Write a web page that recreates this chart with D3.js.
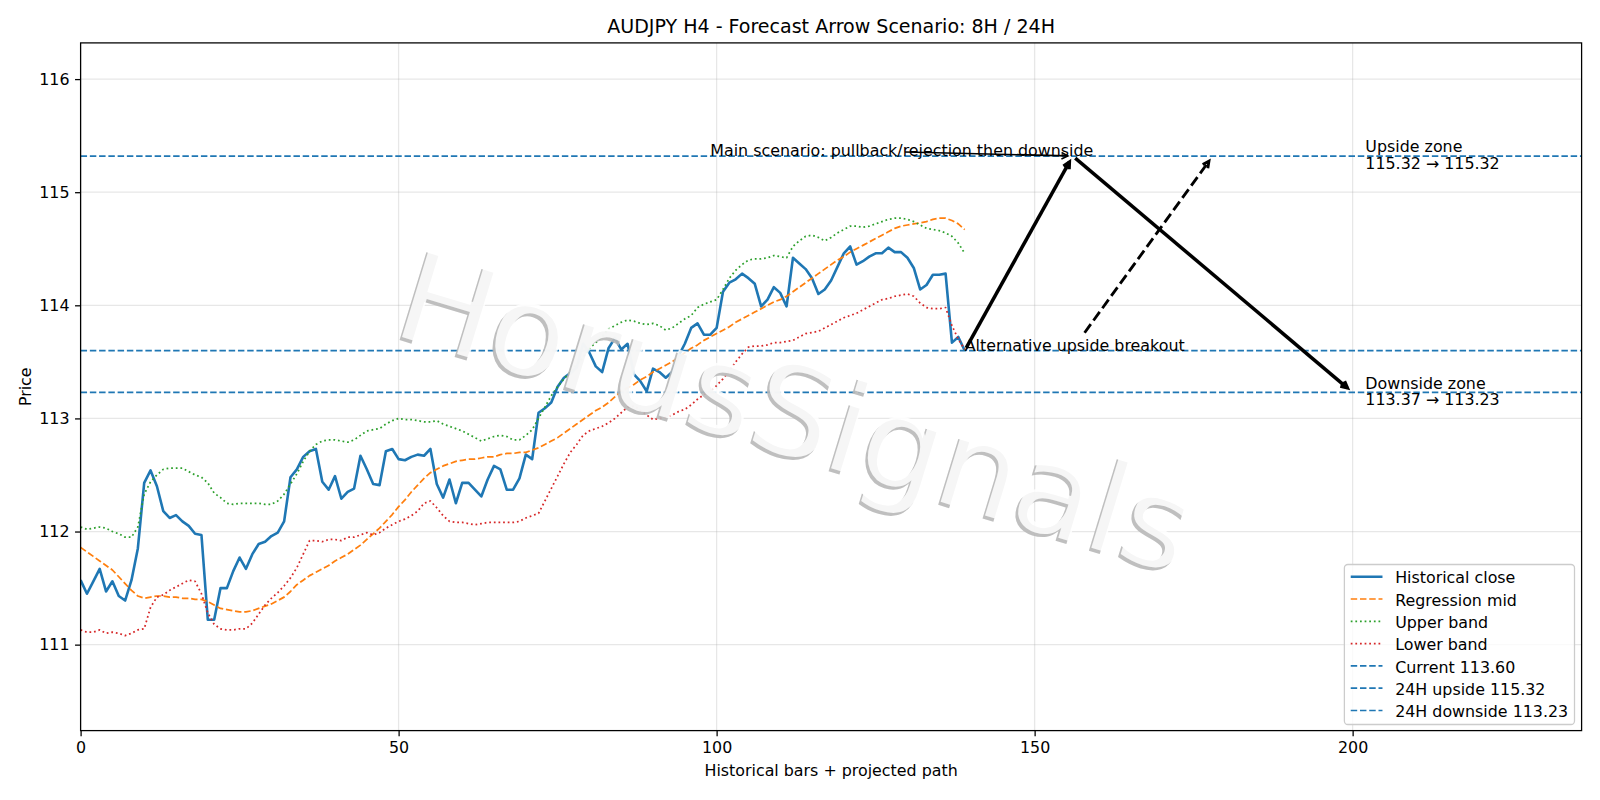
<!DOCTYPE html>
<html><head><meta charset="utf-8">
<script src="https://cdn.jsdelivr.net/npm/d3@7"></script>
<style>
html,body{margin:0;padding:0;background:#fff;}
svg{display:block;font-family:"DejaVu Sans",sans-serif;}
</style></head><body>
<svg id="chart" width="1600" height="800"></svg>
<script>
// ---------------- data ----------------
const closeValues = [
111.57,111.45,111.56,111.67,111.47,111.56,111.43,111.39,111.57,111.85,
112.43,112.54,112.40,112.18,112.12,112.145,112.09,112.05,111.98,111.97,
111.22,111.22,111.50,111.50,111.65,111.77,111.67,111.80,111.89,111.91,
111.96,111.99,112.09,112.48,112.55,112.66,112.71,112.73,112.44,112.37,
112.49,112.29,112.35,112.38,112.67,112.55,112.42,112.41,112.71,112.73,
112.64,112.63,112.66,112.68,112.67,112.73,112.42,112.30,112.46,112.25,
112.43,112.43,112.37,112.31,112.46,112.58,112.55,112.37,112.37,112.47,
112.68,112.64,113.05,113.09,113.14,113.28,113.36,113.40,113.45,113.66,
113.58,113.46,113.41,113.62,113.71,113.61,113.66,113.39,113.33,113.24,
113.44,113.41,113.36,113.41,113.55,113.66,113.80,113.84,113.74,113.74,
113.80,114.12,114.20,114.23,114.28,114.24,114.19,113.99,114.05,114.16,
114.11,113.99,114.42,114.37,114.32,114.24,114.10,114.14,114.22,114.34,
114.46,114.52,114.36,114.39,114.43,114.46,114.46,114.51,114.47,114.47,
114.42,114.33,114.14,114.18,114.27,114.27,114.28,113.67,113.72,113.60];
const midValues = [
111.86,111.82,111.78,111.74,111.70,111.66,111.60,111.54,111.48,111.43,
111.41,111.42,111.43,111.43,111.42,111.42,111.41,111.41,111.40,111.40,
111.38,111.35,111.32,111.31,111.30,111.29,111.29,111.30,111.32,111.34,
111.36,111.39,111.42,111.47,111.53,111.57,111.61,111.64,111.67,111.70,
111.74,111.77,111.80,111.84,111.88,111.93,111.98,112.03,112.09,112.15,
112.22,112.28,112.35,112.41,112.47,112.52,112.55,112.58,112.60,112.62,
112.63,112.64,112.64,112.65,112.66,112.66,112.68,112.69,112.69,112.70,
112.70,112.72,112.74,112.77,112.80,112.83,112.87,112.91,112.95,112.99,
113.03,113.07,113.10,113.14,113.19,113.24,113.27,113.30,113.34,113.37,
113.41,113.44,113.47,113.50,113.54,113.58,113.62,113.65,113.69,113.72,
113.75,113.78,113.81,113.85,113.88,113.91,113.94,113.97,114.00,114.03,
114.05,114.08,114.12,114.16,114.20,114.24,114.28,114.32,114.36,114.40,
114.43,114.47,114.50,114.53,114.56,114.59,114.62,114.65,114.68,114.70,
114.71,114.72,114.73,114.74,114.76,114.77,114.77,114.75,114.72,114.67];
const upperValues = [
112.04,112.02,112.03,112.04,112.03,112.00,111.98,111.95,111.95,112.04,
112.33,112.44,112.50,112.55,112.56,112.56,112.56,112.53,112.50,112.48,
112.43,112.34,112.30,112.25,112.24,112.25,112.25,112.25,112.25,112.24,
112.24,112.27,112.33,112.42,112.51,112.62,112.71,112.77,112.80,112.81,
112.81,112.80,112.79,112.81,112.85,112.89,112.90,112.91,112.95,112.98,
113.00,112.99,112.99,112.98,112.97,112.97,112.98,112.95,112.93,112.91,
112.89,112.86,112.83,112.80,112.82,112.84,112.85,112.84,112.81,112.81,
112.85,112.90,113.00,113.10,113.20,113.28,113.35,113.41,113.48,113.54,
113.62,113.67,113.72,113.79,113.82,113.85,113.87,113.86,113.84,113.83,
113.84,113.82,113.78,113.80,113.84,113.88,113.91,113.98,114.01,114.03,
114.05,114.14,114.24,114.31,114.36,114.40,114.41,114.41,114.42,114.44,
114.43,114.42,114.52,114.57,114.61,114.62,114.60,114.57,114.60,114.64,
114.67,114.70,114.70,114.69,114.70,114.72,114.74,114.76,114.77,114.77,
114.76,114.74,114.71,114.68,114.67,114.66,114.64,114.61,114.55,114.46];
const lowerValues = [
111.13,111.11,111.11,111.13,111.10,111.11,111.10,111.08,111.10,111.13,
111.14,111.33,111.42,111.44,111.48,111.51,111.54,111.57,111.56,111.45,
111.28,111.18,111.14,111.13,111.13,111.14,111.14,111.19,111.27,111.35,
111.41,111.46,111.52,111.59,111.68,111.80,111.92,111.92,111.91,111.93,
111.93,111.92,111.95,111.95,111.97,111.99,111.97,111.99,112.03,112.06,
112.09,112.11,112.14,112.18,112.25,112.27,112.21,112.14,112.09,112.08,
112.08,112.07,112.06,112.07,112.08,112.08,112.08,112.08,112.08,112.09,
112.12,112.14,112.16,112.27,112.38,112.49,112.60,112.70,112.77,112.85,
112.89,112.91,112.93,112.96,113.00,113.05,113.10,113.11,113.07,113.03,
112.99,113.00,113.01,113.03,113.06,113.08,113.12,113.17,113.21,113.24,
113.29,113.35,113.42,113.50,113.57,113.63,113.64,113.64,113.65,113.67,
113.67,113.68,113.69,113.72,113.75,113.76,113.77,113.80,113.83,113.86,
113.89,113.91,113.93,113.96,113.99,114.02,114.05,114.06,114.08,114.09,
114.10,114.08,114.02,113.98,113.97,113.97,113.98,113.82,113.70,113.61];

const levelValues = [113.60, 115.32, 113.23];          // current, 24H upside, 24H downside
const levelLabels = ["Current 113.60", "24H upside 115.32", "24H downside 113.23"];
const downsideFrom = 113.37;
const scenarioX = [139, 156, 200];                     // main path: now -> pullback high -> downside
const scenarioY = [113.60, 115.32, 113.23];
const altTarget = [178, 115.32];                        // alternative breakout arrow target
const mainTextPos = [99, 115.32];
const zoneTextX = 202;
const xTicks = [0, 50, 100, 150, 200];
const yTicks = [111, 112, 113, 114, 115, 116];
const xDomain = [0, 236];
const yDomain = [110.24, 116.32];
const titleText = "AUDJPY H4 - Forecast Arrow Scenario: 8H / 24H";
const xLabelText = "Historical bars + projected path";
const yLabelText = "Price";
const watermarkText = "HorusSignals";

// ---------------- layout ----------------
const PT = 1.5875;             // px per point
const FS = 10 * PT;            // 10pt text
const plot = {l: 80.6, r: 1581.6, t: 42.9, b: 730.6};
const C = {blue: "#1f77b4", orange: "#ff7f0e", green: "#2ca02c", red: "#d62728"};

const svg = d3.select("#chart");
const x = d3.scaleLinear().domain(xDomain).range([plot.l, plot.r]);
const y = d3.scaleLinear().domain(yDomain).range([plot.b, plot.t]);

svg.append("rect").attr("width", 1600).attr("height", 800).attr("fill", "#fff");

svg.append("defs").append("clipPath").attr("id", "clip")
  .append("rect").attr("x", plot.l).attr("y", plot.t)
  .attr("width", plot.r - plot.l).attr("height", plot.b - plot.t);

// grid
const grid = svg.append("g").attr("stroke", "#b0b0b0").attr("stroke-opacity", 0.3).attr("stroke-width", 0.8 * PT);
grid.selectAll(".gx").data(xTicks).enter().append("line")
  .attr("x1", d => x(d)).attr("x2", d => x(d)).attr("y1", plot.t).attr("y2", plot.b);
grid.selectAll(".gy").data(yTicks).enter().append("line")
  .attr("y1", d => y(d)).attr("y2", d => y(d)).attr("x1", plot.l).attr("x2", plot.r);

const plotG = svg.append("g").attr("clip-path", "url(#clip)");
const line = d3.line().x((d, i) => x(i)).y(d => y(d));

const series = [
  {vals: closeValues, color: C.blue, lw: 2.6, dash: null, label: "Historical close"},
  {vals: midValues, color: C.orange, lw: 1.1 * PT, dash: [3.7 * 1.1 * PT, 1.6 * 1.1 * PT], label: "Regression mid"},
  {vals: upperValues, color: C.green, lw: 1.1 * PT, dash: [1 * 1.1 * PT, 1.65 * 1.1 * PT], label: "Upper band"},
  {vals: lowerValues, color: C.red, lw: 1.1 * PT, dash: [1 * 1.1 * PT, 1.65 * 1.1 * PT], label: "Lower band"}
];
series.forEach(s => {
  plotG.append("path").datum(s.vals).attr("d", line)
    .attr("fill", "none").attr("stroke", s.color).attr("stroke-width", s.lw)
    .attr("stroke-linejoin", "round")
    .attr("stroke-dasharray", s.dash ? s.dash.join(",") : null);
});

// horizontal levels
const levelDash = [3.7 * 1.1 * PT, 1.6 * 1.1 * PT];
levelValues.forEach(v => {
  plotG.append("line").attr("x1", plot.l).attr("x2", plot.r)
    .attr("y1", y(v)).attr("y2", y(v))
    .attr("stroke", C.blue).attr("stroke-width", 1.1 * PT)
    .attr("stroke-dasharray", levelDash.join(","));
});

// ---------------- annotations ----------------
const annG = svg.append("g");
function drawArrow(p0, p1, lw, dash, shrinkA) {
  const ms = FS, hl = 0.4 * ms, hw = 0.2 * ms;
  const [x0, y0] = p0, [x1, y1] = p1;
  const dx = x1 - x0, dy = y1 - y0, L = Math.hypot(dx, dy);
  const ux = dx / L, uy = dy / L;
  const shrinkB = 2 * PT;
  const sx = x0 + ux * shrinkA, sy = y0 + uy * shrinkA;
  const ex = x1 - ux * shrinkB, ey = y1 - uy * shrinkB;
  const sinT = hw / Math.hypot(hl, hw);
  const pad = 0.5 * lw / sinT;
  const ax = ex - ux * pad, ay = ey - uy * pad;
  const px = -uy, py = ux;
  const b1x = ax - ux * hl + px * hw, b1y = ay - uy * hl + py * hw;
  const b2x = ax - ux * hl - px * hw, b2y = ay - uy * hl - py * hw;
  annG.append("path").attr("d", `M${sx},${sy}L${ax},${ay}`)
    .attr("fill", "none").attr("stroke", "#000").attr("stroke-width", lw)
    .attr("stroke-dasharray", dash ? dash.join(",") : null);
  annG.append("path").attr("d", `M${b1x},${b1y}L${ax},${ay}L${b2x},${b2y}`)
    .attr("fill", "none").attr("stroke", "#000").attr("stroke-width", lw)
    .attr("stroke-linejoin", "miter").attr("stroke-miterlimit", 10);
}
// text annotation with arrow from the text bbox centre (matplotlib style)
function annotateText(txt, tpos, target, lw, dash) {
  const tx = x(tpos[0]), ty = y(tpos[1]);
  const t = annG.append("text").attr("x", tx).attr("y", ty)
    .attr("font-size", FS).attr("fill", "#000").text(txt);
  const w = t.node().getComputedTextLength();
  const top = ty - 0.76 * FS, bot = ty + 0.24 * FS;
  const cx = tx + w / 2, cy = (top + bot) / 2;
  const pad = 2 * PT;
  const rx0 = tx - pad, rx1 = tx + w + pad, ry0 = top - pad, ry1 = bot + pad;
  const X1 = x(target[0]), Y1 = y(target[1]);
  let sx = cx, sy = cy;
  const inside = (px, py) => px >= rx0 && px <= rx1 && py >= ry0 && py <= ry1;
  if (!inside(X1, Y1)) {
    let lo = 0, hi = 1;
    for (let k = 0; k < 40; k++) {
      const m = (lo + hi) / 2;
      if (inside(cx + (X1 - cx) * m, cy + (Y1 - cy) * m)) lo = m; else hi = m;
    }
    sx = cx + (X1 - cx) * hi; sy = cy + (Y1 - cy) * hi;
  }
  drawArrow([sx, sy], [X1, Y1], lw, dash, 2 * PT);
}

// main scenario path
drawArrow([x(scenarioX[0]), y(scenarioY[0])], [x(scenarioX[1]), y(scenarioY[1])], 2.2 * PT, null, 2 * PT);
drawArrow([x(scenarioX[1]), y(scenarioY[1])], [x(scenarioX[2]), y(scenarioY[2])], 2.2 * PT, null, 2 * PT);
annotateText("Main scenario: pullback/rejection then downside", mainTextPos,
  [scenarioX[1], scenarioY[1]], 1 * PT, null);
annotateText("Alternative upside breakout", [scenarioX[0], scenarioY[0]], altTarget,
  1.8 * PT, [3.7 * 1.8 * PT, 1.6 * 1.8 * PT]);

// zone labels
function zoneText(lines, yv) {
  const pitch = 16.5;
  const b1 = y(yv) - pitch / 2 + 0.276 * FS;
  const t = annG.append("text").attr("font-size", FS).attr("fill", "#000");
  lines.forEach((s, i) => t.append("tspan").attr("x", x(zoneTextX)).attr("y", b1 + i * pitch).text(s));
}
zoneText(["Upside zone", `${levelValues[1].toFixed(2)} \u2192 ${levelValues[1].toFixed(2)}`], levelValues[1]);
zoneText(["Downside zone", `${downsideFrom.toFixed(2)} \u2192 ${levelValues[2].toFixed(2)}`], levelValues[2]);

// ---------------- axes ----------------
const tickLen = 3.5 * PT;
const xAxis = svg.append("g").attr("transform", `translate(0,${plot.b})`)
  .call(d3.axisBottom(x).tickValues(xTicks).tickSize(tickLen).tickPadding(tickLen).tickFormat(d3.format("d")));
const yAxis = svg.append("g").attr("transform", `translate(${plot.l},0)`)
  .call(d3.axisLeft(y).tickValues(yTicks).tickSize(tickLen).tickPadding(tickLen).tickFormat(d3.format("d")));
[xAxis, yAxis].forEach(a => {
  a.select(".domain").remove();
  a.selectAll("line").attr("stroke", "#000").attr("stroke-width", 0.8 * PT);
  a.selectAll("text").attr("font-size", FS).attr("fill", "#000")
    .attr("font-family", '"DejaVu Sans",sans-serif');
});
svg.append("rect").attr("x", plot.l).attr("y", plot.t)
  .attr("width", plot.r - plot.l).attr("height", plot.b - plot.t)
  .attr("fill", "none").attr("stroke", "#000").attr("stroke-width", 0.8 * PT);

// titles
const midX = (plot.l + plot.r) / 2;
svg.append("text").attr("x", midX).attr("y", plot.t - 6 * PT)
  .attr("text-anchor", "middle").attr("font-size", 12 * PT).attr("fill", "#000").text(titleText);
svg.append("text").attr("x", midX).attr("y", 776)
  .attr("text-anchor", "middle").attr("font-size", FS).attr("fill", "#000").text(xLabelText);
svg.append("text").attr("transform", `translate(31,${(plot.t + plot.b) / 2}) rotate(-90)`)
  .attr("text-anchor", "middle").attr("font-size", FS).attr("fill", "#000").text(yLabelText);

// ---------------- legend ----------------
const legItems = series.map(s => ({label: s.label, color: s.color, lw: s.lw, dash: s.dash}))
  .concat(levelLabels.map(l => ({label: l, color: C.blue, lw: 1.1 * PT, dash: levelDash})));
const legG = svg.append("g");
const legBox = legG.append("rect");
const pitch = 22.3, handleLen = 2 * FS, textPad = 0.8 * FS, bpad = 0.4 * FS;
const legRight = 1574.5, legBottom = 724.5, legTop = 564.5;
const texts = [];
let maxW = 0;
legItems.forEach((it, i) => {
  const t = legG.append("text").attr("font-size", FS).attr("fill", "#000").text(it.label);
  maxW = Math.max(maxW, t.node().getComputedTextLength());
  texts.push(t);
});
const legW = bpad + handleLen + textPad + maxW + bpad;
const legLeft = legRight - legW;
legBox.attr("x", legLeft).attr("y", legTop).attr("width", legW).attr("height", legBottom - legTop)
  .attr("rx", 3.5).attr("fill", "#fff").attr("fill-opacity", 0.8)
  .attr("stroke", "#cccccc").attr("stroke-width", 0.8 * PT);
legItems.forEach((it, i) => {
  const hy = legTop + 12.2 + i * pitch;
  const hx = legLeft + bpad;
  legG.append("line").attr("x1", hx).attr("x2", hx + handleLen).attr("y1", hy).attr("y2", hy)
    .attr("stroke", it.color).attr("stroke-width", it.lw)
    .attr("stroke-dasharray", it.dash ? it.dash.join(",") : null);
  texts[i].attr("x", hx + handleLen + textPad).attr("y", hy + 6.6);
});

// ---------------- watermark ----------------
const wmSize = 126, wmRot = 17, wmX = 796, wmY = 412;
svg.append("text").attr("transform", `translate(${wmX - 2.6},${wmY + 3}) rotate(${wmRot})`)
  .attr("text-anchor", "middle").attr("dominant-baseline", "central")
  .attr("font-size", wmSize).attr("fill", "#b8b8b8").attr("fill-opacity", 0.9).text(watermarkText);
svg.append("text").attr("transform", `translate(${wmX},${wmY}) rotate(${wmRot})`)
  .attr("text-anchor", "middle").attr("dominant-baseline", "central")
  .attr("font-size", wmSize).attr("fill", "#ffffff").attr("fill-opacity", 0.85).text(watermarkText);
</script>
</body></html>
